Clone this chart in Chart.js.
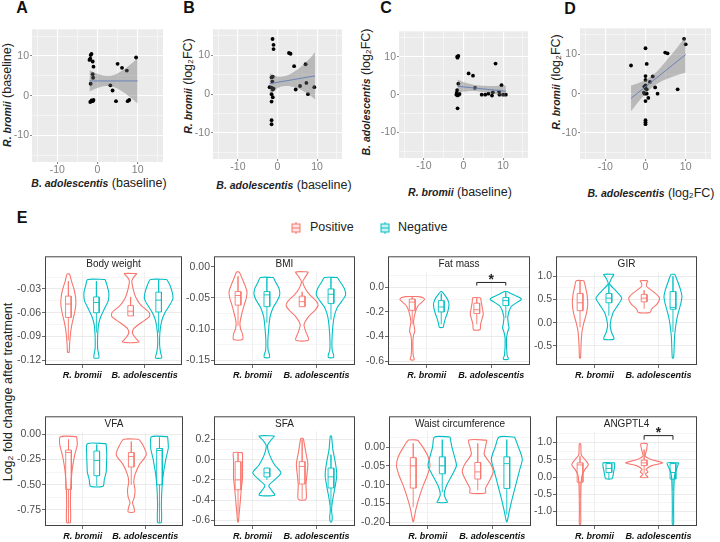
<!DOCTYPE html>
<html>
<head>
<meta charset="utf-8">
<script src="https://cdn.jsdelivr.net/npm/chart.js@4.4.1/dist/chart.umd.min.js"></script>
<style>
body{margin:0;background:#fff;width:720px;height:542px;position:relative;overflow:hidden;font-family:Arial,"Liberation Sans",sans-serif;}
canvas{position:absolute;}
.t{position:absolute;white-space:nowrap;transform:translate(-50%,-50%);color:#222;font-size:12.5px;}
.r{transform:translate(-50%,-50%) rotate(-90deg);}
.lt{position:absolute;font-weight:bold;font-size:16px;color:#111;transform:translate(-50%,-50%);}
.bi{font-weight:bold;font-style:italic;font-size:10.5px;}
.st{position:absolute;font-size:10.5px;color:#222;transform:translateY(-50%);white-space:nowrap;}
.lg{position:absolute;font-size:12.5px;color:#222;transform:translateY(-50%);}
</style>
</head>
<body>
<div class="lt" style="left:22px;top:8px">A</div>
<div class="lt" style="left:189px;top:8px">B</div>
<div class="lt" style="left:386px;top:8px">C</div>
<div class="lt" style="left:570px;top:9px">D</div>
<div class="lt" style="left:22px;top:218px">E</div>

<div class="t r" style="left:7px;top:95px"><span class="bi">R. bromii</span> (baseline)</div>
<div class="t r" style="left:188px;top:86px"><span class="bi">R. bromii</span> (log₂FC)</div>
<div class="t r" style="left:366px;top:92px"><span class="bi">B. adolescentis</span> (log₂FC)</div>
<div class="t r" style="left:556px;top:82px"><span class="bi">R. bromii</span> (log₂FC)</div>
<div class="t" style="left:99px;top:183px"><span class="bi">B. adolescentis</span> (baseline)</div>
<div class="t" style="left:284px;top:185px"><span class="bi">B. adolescentis</span> (baseline)</div>
<div class="t" style="left:460px;top:192px"><span class="bi">R. bromii</span> (baseline)</div>
<div class="t" style="left:651px;top:193px"><span class="bi">B. adolescentis</span> (log₂FC)</div>

<div class="st" style="left:42px;top:119px">r = 0.002</div>
<div class="st" style="left:42px;top:136px">p = 0.994</div>
<div class="st" style="left:220px;top:119px">r = 0.135</div>
<div class="st" style="left:220px;top:136px">p = 0.503</div>
<div class="st" style="left:408px;top:119px">r = -0.156</div>
<div class="st" style="left:408px;top:136px">p = 0.438</div>
<div class="st" style="left:600px;top:119px">r = 0.507</div>
<div class="st" style="left:600px;top:136px">p = 0.007</div>

<svg style="position:absolute;left:291px;top:222px" width="10" height="12"><g stroke="#F8766D" fill="#fde3e1" stroke-width="1"><rect x="1" y="2" width="8" height="8"/><line x1="1" y1="6" x2="9" y2="6"/><line x1="5" y1="0" x2="5" y2="2"/><line x1="5" y1="10" x2="5" y2="12"/></g></svg>
<div class="lg" style="left:310px;top:227px">Positive</div>
<svg style="position:absolute;left:380px;top:222px" width="10" height="12"><g stroke="#00BFC4" fill="#cdf1f2" stroke-width="1"><rect x="1" y="2" width="8" height="8"/><line x1="1" y1="6" x2="9" y2="6"/><line x1="5" y1="0" x2="5" y2="2"/><line x1="5" y1="10" x2="5" y2="12"/></g></svg>
<div class="lg" style="left:398px;top:227px">Negative</div>

<div class="t r" style="left:8px;top:392px;font-size:12.5px">Log₂ fold change after treatment</div>

<script>
const POS = '#F8766D', NEG = '#00BFC4';
Chart.defaults.font.family = 'Arial, "Liberation Sans", sans-serif';
Chart.defaults.animation = false;

// ---- scatter panels A-D ----
const aPtsX = [-1.7,-1.5,-1.8,-2,-1.2,-1,-1.2,-1.1,-1.7,-1.5,-1.2,-1.8,-1,5,6.1,7.3,9.6,3.2,3.75,4.6,7.5,7.9];
const aPtsY = [10.2,10.5,9.3,9.0,8.6,7.3,5.4,4.5,3.0,-1.2,-1.4,-1.6,-1.1,8.0,7.0,6.3,9.6,2.6,1.3,-1.4,-1.4,-1.1];
const aBandX = [-2,0,2,4,6,8,10];
const aBandHi = [6.4,5.5,5.0,5.2,6.2,7.7,9.4];
const aBandLo = [1.0,1.9,2.4,2.2,1.2,-0.3,-2.0];
const aFit = [[-2,3.7],[10,3.7]];

const bPtsX = [-1.25,-1,-1,2.9,3.3,4.2,7.1,-1.5,-1.2,-1.3,-2,-1.5,-1,-1.2,-1.5,-1.2,-1.5,-1.5,-1.5,4.6,5.7,7.3,7.7,9.3];
const bPtsY = [14.2,12.7,11.6,10.6,10.4,7.2,7.7,4.3,4.5,3.25,1.8,1.7,1.4,1.2,0,-0.8,-1.9,-6.7,-7.75,1.2,2.1,2.9,0,1.8];
const bBandX = [-2,0,2,4,6,8,9.5];
const bBandHi = [5.4,4.55,4.7,5.64,7.09,9.04,10.8];
const bBandLo = [0,1.55,2.1,1.84,1.09,-0.16,-1.4];
const bFit = [[-2,2.7],[9.5,4.7]];

const cPtsX = [-1.6,-1.3,-1.5,-1.3,-1.6,-1.7,-1.2,-1.5,-1.0,-1.8,-1.5,1.3,2.4,2.9,4.6,5.5,6.3,7.2,7.4,8.1,9.0,9.6,10.0,10.7,9.1];
const cPtsY = [10,10.2,9.75,2.9,1.2,0.5,0,-0.2,0.2,0,-3.6,5.6,5,1.8,0,0,0.25,-0.25,0.6,8.2,0.8,2.5,0,0,0];
const cBandX = [-1.5,0,2,4,6,8,10.7];
const cBandHi = [4.0,3.34,2.73,2.41,2.3,2.28,2.4];
const cBandLo = [0.4,0.74,0.93,0.81,0.5,0.08,-0.6];
const cFit = [[-1.5,2.2],[10.7,0.9]];

const dPtsX = [-3.6,0,0.3,0,0,0,-0.3,0,0.3,-0.4,0.3,-0.2,0.7,0,1.1,1.8,2.4,3,4.9,5.5,8,9.6,10,0,0,0];
const dPtsY = [7.2,11.6,7.6,4.5,3.5,2.1,1.8,1.4,1.1,0.25,0,0,-1.1,-1.9,3.0,4.4,1.6,0,10.5,10.3,1.1,14,12.6,-6.8,-7.3,-7.8];
const dBandX = [-3.6,-2,0,2,4,6,8,10];
const dBandHi = [2.1,2.62,3.46,4.91,6.96,9.41,11.95,14.6];
const dBandLo = [-4.5,-2.38,0.06,1.91,3.16,4.01,4.75,5.4];
const dFit = [[-3.6,-1.2],[10,10]];

const scatterTicks = [-15,-10,-5,0,5,10,15];
const scatterLabels = {'-10': '-10', '0': '0', '10': '10'};

// ---- violin panels E ----
const vTitles = ['Body weight','BMI','Fat mass','GIR','VFA','SFA','Waist circumference','ANGPTL4'];
const vGroups = ['R. bromii','B. adolescentis'];
const vTicks = [[-0.03,-0.06,-0.09,-0.12],[0,-0.05,-0.10,-0.15],[0,-0.2,-0.4,-0.6],[1,0.5,0,-0.5],
                [0,-0.25,-0.5,-0.75],[0.2,0,-0.2,-0.4,-0.6],[0,-0.05,-0.1,-0.15,-0.2],[1,0.5,0,-0.5,-1]];
const vDec = [2,2,1,1,2,1,2,1];
const vRange = [[-0.126,0.0113],[-0.158,0.0172],[-0.632,0.253],[-0.91,1.43],[-0.91,0.18],[-0.657,0.43],[-0.21,0.082],[-1.42,1.76]];
// significance bracket: [bar y, tick end y, star y]
const vSig = [null,null,[0.04,0.015,0.085],null,null,null,null,[1.2,1.08,1.36]];

// violin outlines: [y, half width], order pos R.bromii, neg R.bromii, pos B.adol, neg B.adol
const bodyWeight = [
  [[-0.011,0.02],[-0.02,0.05],[-0.03,0.09],[-0.04,0.115],[-0.05,0.12],[-0.06,0.1],[-0.07,0.07],[-0.08,0.045],[-0.09,0.03],[-0.1,0.02],[-0.11,0.012]],
  [[-0.018,0.14],[-0.025,0.17],[-0.035,0.2],[-0.045,0.19],[-0.055,0.13],[-0.065,0.07],[-0.075,0.035],[-0.09,0.02],[-0.105,0.02],[-0.112,0.035],[-0.117,0.04]],
  [[-0.0106,0.1],[-0.015,0.05],[-0.02,0.02],[-0.03,0.04],[-0.04,0.08],[-0.05,0.16],[-0.06,0.3],[-0.065,0.3],[-0.072,0.18],[-0.08,0.05],[-0.086,0.03],[-0.091,0.07],[-0.097,0.13]],
  [[-0.018,0.13],[-0.025,0.18],[-0.035,0.22],[-0.042,0.23],[-0.05,0.18],[-0.06,0.1],[-0.07,0.05],[-0.085,0.02],[-0.1,0.015],[-0.11,0.03],[-0.117,0.05]]
];
const bmi = [
  [[-0.008,0.02],[-0.02,0.07],[-0.03,0.11],[-0.04,0.14],[-0.05,0.13],[-0.06,0.1],[-0.075,0.06],[-0.09,0.03],[-0.1,0.04],[-0.108,0.07],[-0.117,0.07]],
  [[-0.017,0.1],[-0.025,0.14],[-0.035,0.19],[-0.045,0.2],[-0.055,0.16],[-0.065,0.1],[-0.08,0.05],[-0.098,0.03],[-0.12,0.015],[-0.135,0.02],[-0.141,0.04],[-0.146,0.04]],
  [[-0.008,0.1],[-0.016,0.05],[-0.024,0.01],[-0.035,0.05],[-0.045,0.12],[-0.055,0.22],[-0.062,0.25],[-0.07,0.2],[-0.08,0.1],[-0.093,0.03],[-0.105,0.06],[-0.118,0.1]],
  [[-0.017,0.1],[-0.025,0.15],[-0.035,0.21],[-0.045,0.23],[-0.055,0.17],[-0.065,0.1],[-0.08,0.05],[-0.095,0.03],[-0.12,0.015],[-0.135,0.02],[-0.141,0.04],[-0.146,0.04]]
];
const fatMass = [
  [[-0.075,0.1],[-0.085,0.17],[-0.1,0.19],[-0.12,0.15],[-0.15,0.09],[-0.2,0.05],[-0.28,0.02],[-0.33,0.035],[-0.36,0.04],[-0.39,0.02],[-0.45,0.01],[-0.55,0.015],[-0.58,0.03],[-0.59,0.03]],
  [[-0.034,0.01],[-0.06,0.05],[-0.1,0.1],[-0.14,0.12],[-0.2,0.1],[-0.26,0.06],[-0.3,0.04],[-0.325,0.03]],
  [[-0.085,0.06],[-0.12,0.07],[-0.18,0.09],[-0.22,0.1],[-0.26,0.08],[-0.3,0.06],[-0.345,0.05]],
  [[-0.034,0.02],[-0.06,0.12],[-0.085,0.22],[-0.1,0.24],[-0.12,0.18],[-0.16,0.08],[-0.24,0.03],[-0.3,0.04],[-0.33,0.05],[-0.36,0.03],[-0.42,0.01],[-0.55,0.02],[-0.585,0.04]]
];
const gir = [
  [[0.905,0.06],[0.8,0.08],[0.6,0.11],[0.4,0.12],[0.2,0.1],[0.0,0.06],[-0.2,0.03],[-0.5,0.015],[-0.76,0.008]],
  [[1.04,0.08],[0.95,0.04],[0.84,0.01],[0.7,0.1],[0.53,0.2],[0.4,0.15],[0.2,0.06],[-0.05,0.02],[-0.2,0.04],[-0.35,0.08]],
  [[0.905,0.06],[0.85,0.04],[0.78,0.04],[0.65,0.16],[0.53,0.24],[0.4,0.2],[0.3,0.12],[0.22,0.09]],
  [[1.04,0.03],[0.9,0.07],[0.7,0.12],[0.56,0.14],[0.4,0.12],[0.2,0.08],[0.0,0.05],[-0.3,0.025],[-0.76,0.01]]
];
const vfa = [
  [[-0.022,0.13],[-0.1,0.14],[-0.2,0.1],[-0.3,0.07],[-0.4,0.05],[-0.53,0.035],[-0.7,0.03],[-0.873,0.03]],
  [[-0.092,0.15],[-0.2,0.16],[-0.3,0.155],[-0.375,0.15],[-0.45,0.12],[-0.514,0.1]],
  [[-0.048,0.12],[-0.1,0.18],[-0.2,0.24],[-0.3,0.13],[-0.4,0.06],[-0.47,0.04],[-0.55,0.06],[-0.62,0.05],[-0.68,0.02],[-0.72,0.04],[-0.77,0.05]],
  [[-0.022,0.13],[-0.1,0.14],[-0.14,0.14],[-0.25,0.1],[-0.4,0.06],[-0.53,0.04],[-0.7,0.03],[-0.873,0.03]]
];
const sfa = [
  [[0.07,0.07],[0.0,0.07],[-0.1,0.07],[-0.18,0.07],[-0.3,0.05],[-0.45,0.03],[-0.55,0.015],[-0.616,0.005]],
  [[0.235,0.12],[0.19,0.06],[0.14,0.01],[0.05,0.04],[-0.05,0.12],[-0.13,0.22],[-0.2,0.12],[-0.257,0.03],[-0.3,0.07],[-0.352,0.12]],
  [[0.21,0.02],[0.1,0.05],[0.0,0.08],[-0.05,0.09],[-0.15,0.075],[-0.25,0.06],[-0.393,0.06]],
  [[0.235,0.01],[0.1,0.03],[0.0,0.06],[-0.1,0.085],[-0.162,0.09],[-0.25,0.07],[-0.35,0.04],[-0.45,0.015],[-0.505,0.01],[-0.57,0.02],[-0.616,0.01]]
];
const waist = [
  [[0.0187,0.07],[0.0,0.15],[-0.025,0.23],[-0.049,0.26],[-0.075,0.22],[-0.1,0.16],[-0.13,0.1],[-0.16,0.05],[-0.185,0.02],[-0.198,0.005]],
  [[0.027,0.12],[0.0,0.15],[-0.032,0.2],[-0.05,0.22],[-0.075,0.15],[-0.105,0.06],[-0.126,0.03],[-0.14,0.06],[-0.147,0.08]],
  [[0.0187,0.14],[0.0,0.12],[-0.0196,0.1],[-0.045,0.2],[-0.066,0.24],[-0.09,0.18],[-0.11,0.12],[-0.122,0.12]],
  [[0.027,0.12],[0.0,0.18],[-0.032,0.24],[-0.06,0.2],[-0.1,0.14],[-0.14,0.08],[-0.17,0.04],[-0.198,0.005]]
];
const angptl4 = [
  [[0.97,0.01],[0.8,0.015],[0.64,0.02],[0.5,0.08],[0.36,0.13],[0.2,0.07],[0.04,0.03],[-0.3,0.015],[-1.0,0.01],[-1.37,0.01]],
  [[0.41,0.09],[0.3,0.09],[0.2,0.08],[0.1,0.07],[0.0,0.06],[-0.05,0.05]],
  [[0.97,0.05],[0.8,0.04],[0.6,0.02],[0.5,0.12],[0.41,0.29],[0.33,0.12],[0.22,0.03],[0.15,0.06],[0.08,0.02],[-0.01,0.06]],
  [[0.41,0.09],[0.25,0.06],[0.1,0.03],[-0.06,0.02],[-0.5,0.012],[-1.0,0.01],[-1.37,0.01]]
];
const vViolins = [bodyWeight, bmi, fatMass, gir, vfa, sfa, waist, angptl4];

// boxes: [lower whisker, q1, median, q3, upper whisker]
const vBoxes = [
  [[-0.095,-0.066,-0.049,-0.039,-0.02],[-0.085,-0.060,-0.047,-0.040,-0.02],[-0.064,-0.064,-0.058,-0.051,-0.04],[-0.085,-0.059,-0.044,-0.034,-0.018]],
  [[-0.095,-0.0615,-0.046,-0.0396,-0.015],[-0.09,-0.064,-0.045,-0.0396,-0.017],[-0.064,-0.064,-0.056,-0.047,-0.04],[-0.085,-0.059,-0.044,-0.0354,-0.017]],
  [[-0.3,-0.187,-0.12,-0.095,-0.075],[-0.3,-0.2,-0.16,-0.108,-0.05],[-0.3,-0.213,-0.182,-0.129,-0.09],[-0.25,-0.148,-0.108,-0.082,-0.04]],
  [[-0.1,0.26,0.43,0.63,0.9],[0.15,0.43,0.53,0.63,0.85],[0.3,0.45,0.53,0.61,0.7],[-0.2,0.29,0.33,0.67,1.0]],
  [[-0.873,-0.546,-0.18,-0.155,-0.05],[-0.514,-0.41,-0.26,-0.165,-0.1],[-0.5,-0.324,-0.22,-0.18,-0.07],[-0.873,-0.5,-0.16,-0.14,-0.03]],
  [[-0.55,-0.298,-0.2,-0.019,0.07],[-0.2,-0.171,-0.13,-0.083,-0.08],[-0.393,-0.241,-0.067,-0.019,0.2],[-0.45,-0.28,-0.17,-0.083,0.05]],
  [[-0.16,-0.109,-0.05,-0.028,0.01],[-0.12,-0.071,-0.05,-0.026,0.02],[-0.115,-0.085,-0.066,-0.041,0.01],[-0.18,-0.11,-0.044,-0.026,0.02]],
  [[-0.6,-0.15,0.35,0.41,0.6],[-0.05,0.13,0.25,0.39,0.41],[0.1,0.33,0.41,0.49,0.8],[-0.4,-0.06,0.13,0.39,0.41]]
];

const vCenters = [0.775, 1.225, 1.775, 2.225];
const vColors = [POS, NEG, POS, NEG];

// layout of plot rectangles [left, top, right, bottom]
const scatterRects = [[32,25,163,162],[213,25,342,159],[399,27,528,158],[580,24,711,159]];
const violinRects = [
  [45,252,182,365],[214,252,355,365],[388,252,530,365],[556,252,697,365],
  [45,412,183,526],[214,412,355,526],[389,412,531,526],[556,412,697,526]
];

function makeCanvas(rect, padL, padB) {
  const c = document.createElement('canvas');
  const left = rect[0] - padL, top = rect[1] - 3;
  const w = rect[2] - left + 4, h = rect[3] - top + padB;
  c.width = w; c.height = h;
  c.style.left = left + 'px'; c.style.top = top + 'px';
  c.style.width = w + 'px'; c.style.height = h + 'px';
  document.body.appendChild(c);
  return c;
}

const grayBg = {
  id: 'grayBg',
  beforeDraw(chart) {
    const {ctx, chartArea: a} = chart;
    ctx.save();
    ctx.fillStyle = '#ebebeb';
    ctx.fillRect(a.left, a.top, a.right - a.left, a.bottom - a.top);
    ctx.restore();
  }
};

function scatterPanel(rect, px, py, bx, hi, lo, fit) {
  const canvas = makeCanvas(rect, 30, 16);
  const pts = px.map((x, i) => ({x: x, y: py[i]}));
  const major = v => v % 10 === 0;
  const label = v => scatterLabels[String(Math.round(v))] || '';
  new Chart(canvas, {
    type: 'line',
    data: {
      datasets: [
        {data: fit.map(p => ({x: p[0], y: p[1]})), borderColor: '#6c84b8', borderWidth: 1, pointRadius: 0},
        {data: bx.map((x, i) => ({x: x, y: hi[i]})), borderWidth: 0, pointRadius: 0, tension: 0.4,
         fill: '+1', backgroundColor: 'rgba(110,110,110,0.4)'},
        {data: bx.map((x, i) => ({x: x, y: lo[i]})), borderWidth: 0, pointRadius: 0, tension: 0.4},
        {data: pts, showLine: false, pointRadius: 1.9, pointBackgroundColor: '#000', pointBorderWidth: 0}
      ]
    },
    options: {
      responsive: false,
      layout: {padding: {top: 3, right: 4}},
      plugins: {legend: {display: false}, tooltip: {enabled: false}},
      scales: {
        x: {type: 'linear', min: -16.3, max: 16.3,
            afterBuildTicks: s => { s.ticks = scatterTicks.map(v => ({value: v})); },
            afterFit: s => { s.height = 16; },
            border: {display: false},
            grid: {color: '#fff', lineWidth: c => major(c.tick.value) ? 1.1 : 0.5, tickLength: 2,
                   tickColor: c => major(c.tick.value) ? '#888' : 'rgba(0,0,0,0)'},
            ticks: {color: '#808080', font: {size: 10.5}, padding: 0, maxRotation: 0, autoSkip: false,
                    callback: label}},
        y: {type: 'linear', min: -16.7, max: 16.7,
            afterBuildTicks: s => { s.ticks = scatterTicks.map(v => ({value: v})); },
            afterFit: s => { s.width = 30; },
            border: {display: false},
            grid: {color: '#fff', lineWidth: c => major(c.tick.value) ? 1.1 : 0.5, tickLength: 2,
                   tickColor: c => major(c.tick.value) ? '#888' : 'rgba(0,0,0,0)'},
            ticks: {color: '#808080', font: {size: 10.5}, padding: 1, autoSkip: false,
                    callback: label}}
      }
    },
    plugins: [grayBg]
  });
}

scatterPanel(scatterRects[0], aPtsX, aPtsY, aBandX, aBandHi, aBandLo, aFit);
scatterPanel(scatterRects[1], bPtsX, bPtsY, bBandX, bBandHi, bBandLo, bFit);
scatterPanel(scatterRects[2], cPtsX, cPtsY, cBandX, cBandHi, cBandLo, cFit);
scatterPanel(scatterRects[3], dPtsX, dPtsY, dBandX, dBandHi, dBandLo, dFit);

function violinSet(prof, cx, col) {
  const right = prof.map(p => ({x: cx + p[1], y: p[0]}));
  const left = prof.slice().reverse().map(p => ({x: cx - p[1], y: p[0]}));
  const pts = right.concat(left);
  pts.push(pts[0]);
  return {data: pts, borderColor: col, borderWidth: 1.1, pointRadius: 0, tension: 0.25, fill: false};
}

function boxSet(b, cx, col) {
  const w = 0.045;
  const pts = [
    {x: cx, y: b[0]}, {x: cx, y: b[1]}, {x: cx - w, y: b[1]}, {x: cx - w, y: b[3]}, {x: cx, y: b[3]},
    {x: cx, y: b[4]}, {x: cx, y: b[3]}, {x: cx + w, y: b[3]}, {x: cx + w, y: b[1]}, {x: cx, y: b[1]},
    {x: cx, y: null},
    {x: cx - w, y: b[2]}, {x: cx + w, y: b[2]}
  ];
  return {data: pts, borderColor: col, borderWidth: 0.9, pointRadius: 0, tension: 0, spanGaps: false};
}

const panelDeco = {
  id: 'deco',
  beforeDatasetsDraw(chart, args, o) {
    const {ctx, chartArea: a} = chart;
    ctx.save();
    ctx.fillStyle = '#fff';
    ctx.fillRect(a.left, a.top, a.right - a.left, 15);
    ctx.restore();
  },
  afterDraw(chart, args, o) {
    const {ctx, chartArea: a, scales} = chart;
    ctx.save();
    ctx.strokeStyle = '#444';
    ctx.lineWidth = 1;
    ctx.strokeRect(a.left + 0.5, a.top + 0.5, a.right - a.left - 1, a.bottom - a.top - 1);
    ctx.fillStyle = '#222';
    ctx.font = '10px Arial, "Liberation Sans", sans-serif';
    ctx.textAlign = 'center';
    ctx.textBaseline = 'middle';
    ctx.fillText(o.title, (a.left + a.right) / 2, a.top + 8);
    if (o.sig) {
      const x1 = scales.x.getPixelForValue(vCenters[2]);
      const x2 = scales.x.getPixelForValue(vCenters[3]);
      const yb = scales.y.getPixelForValue(o.sig[0]);
      const yt = scales.y.getPixelForValue(o.sig[1]);
      ctx.strokeStyle = '#222';
      ctx.beginPath();
      ctx.moveTo(x1, yt); ctx.lineTo(x1, yb); ctx.lineTo(x2, yb); ctx.lineTo(x2, yt);
      ctx.stroke();
      ctx.font = 'bold 14px Arial, "Liberation Sans", sans-serif';
      ctx.fillText('*', (x1 + x2) / 2, scales.y.getPixelForValue(o.sig[2]) + 3);
    }
    ctx.restore();
  }
};

function violinPanel(i) {
  const rect = violinRects[i];
  const canvas = makeCanvas(rect, 40, 16);
  const ticks = vTicks[i];
  const step = Math.abs(ticks[0] - ticks[1]);
  const all = [];
  ticks.forEach(t => all.push({value: t, major: true}));
  const hiT = Math.max(...ticks), loT = Math.min(...ticks);
  for (let v = loT - step / 2; v <= hiT + step / 2 + 1e-9; v += step) {
    if (v > vRange[i][0] && v < vRange[i][1]) all.push({value: v, major: false});
  }
  const isMajor = v => ticks.some(t => Math.abs(t - v) < 1e-9);
  const sets = [];
  vViolins[i].forEach((p, k) => sets.push(violinSet(p, vCenters[k], vColors[k])));
  vBoxes[i].forEach((b, k) => sets.push(boxSet(b, vCenters[k], vColors[k])));
  new Chart(canvas, {
    type: 'line',
    data: {datasets: sets},
    options: {
      responsive: false,
      layout: {padding: {top: 3, right: 4}},
      plugins: {legend: {display: false}, tooltip: {enabled: false},
                deco: {title: vTitles[i], sig: vSig[i]}},
      scales: {
        x: {type: 'linear', min: 0.4, max: 2.6,
            afterBuildTicks: s => { s.ticks = [{value: 1}, {value: 2}]; },
            afterFit: s => { s.height = 16; },
            border: {display: false},
            grid: {color: '#ebebeb', lineWidth: 0.8, tickLength: 3, tickColor: '#444'},
            ticks: {color: '#111', font: {size: 9, weight: 'bold', style: 'italic'}, padding: 2, maxRotation: 0,
                    autoSkip: false, callback: v => vGroups[v - 1]}},
        y: {type: 'linear', min: vRange[i][0], max: vRange[i][1],
            afterBuildTicks: s => { s.ticks = all.map(t => ({value: t.value})); },
            afterFit: s => { s.width = 40; },
            border: {display: false},
            grid: {color: c => isMajor(c.tick.value) ? '#e6e6e6' : '#f3f3f3',
                   lineWidth: 0.8, tickLength: 3,
                   tickColor: c => isMajor(c.tick.value) ? '#444' : 'rgba(0,0,0,0)'},
            ticks: {color: '#4d4d4d', font: {size: 10.5}, padding: 1, autoSkip: false,
                    callback: v => isMajor(v) ? v.toFixed(vDec[i]) : ''}}
      }
    },
    plugins: [panelDeco]
  });
}

for (let i = 0; i < 8; i++) violinPanel(i);
</script>
</body>
</html>
